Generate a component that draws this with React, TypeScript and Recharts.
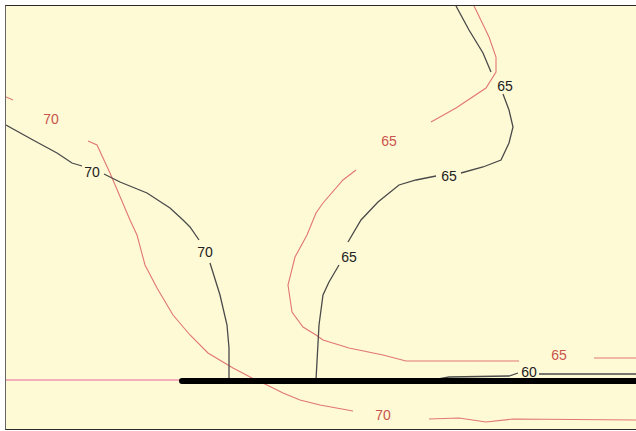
import { ScatterChart, Scatter, XAxis, YAxis } from "recharts";

type Pt = { x: number; y: number };
type Lbl = { x: number; y: number; label: string };

// isolines, black (current run)
const black70a: Pt[] = [
  { x: 0, y: 119 }, { x: 27, y: 134 }, { x: 51, y: 147 }, { x: 66, y: 157 }, { x: 76, y: 160 },
];
const black70b: Pt[] = [
  { x: 98, y: 168 }, { x: 114, y: 176 }, { x: 141, y: 187 }, { x: 164, y: 202 },
  { x: 177, y: 214 }, { x: 184, y: 221 }, { x: 193, y: 234 },
];
const black70c: Pt[] = [
  { x: 204, y: 257 }, { x: 214, y: 289 }, { x: 221, y: 319 }, { x: 223, y: 342 }, { x: 223, y: 374 },
];
const black65a: Pt[] = [
  { x: 310, y: 374 }, { x: 313, y: 319 }, { x: 317, y: 289 }, { x: 323, y: 276 }, { x: 333, y: 259 },
];
const black65b: Pt[] = [
  { x: 342, y: 236 }, { x: 355, y: 214 }, { x: 372, y: 196 }, { x: 393, y: 179 },
  { x: 410, y: 174 }, { x: 430, y: 170 },
];
const black65c: Pt[] = [
  { x: 455, y: 167 }, { x: 477, y: 161 }, { x: 495, y: 154 }, { x: 503, y: 137 },
  { x: 507, y: 121 }, { x: 503, y: 104 }, { x: 497, y: 88 },
];
const black65d: Pt[] = [
  { x: 485, y: 66 }, { x: 477, y: 47 }, { x: 463, y: 24 }, { x: 450, y: 0 },
];
const black60a: Pt[] = [
  { x: 427, y: 374 }, { x: 443, y: 371 }, { x: 503, y: 370 }, { x: 512, y: 367 },
];
const black60b: Pt[] = [{ x: 533, y: 368 }, { x: 630, y: 368 }];

// isolines, red (previous run)
const red70a: Pt[] = [{ x: 0, y: 91 }, { x: 7, y: 94 }];
const red70b: Pt[] = [
  { x: 82, y: 135 }, { x: 91, y: 139 }, { x: 104, y: 167 }, { x: 124, y: 214 }, { x: 131, y: 229 },
  { x: 139, y: 259 }, { x: 151, y: 282 }, { x: 167, y: 309 }, { x: 184, y: 329 }, { x: 202, y: 347 },
  { x: 227, y: 362 }, { x: 246, y: 372 }, { x: 261, y: 379 }, { x: 277, y: 387 }, { x: 294, y: 394 },
  { x: 314, y: 399 }, { x: 347, y: 405 },
];
const red70c: Pt[] = [
  { x: 423, y: 413 }, { x: 453, y: 412 }, { x: 480, y: 416 }, { x: 507, y: 413 }, { x: 630, y: 414 },
];
const red65a: Pt[] = [
  { x: 350, y: 164 }, { x: 337, y: 174 }, { x: 317, y: 197 }, { x: 310, y: 207 }, { x: 301, y: 229 },
  { x: 289, y: 251 }, { x: 282, y: 279 }, { x: 286, y: 306 }, { x: 297, y: 321 }, { x: 310, y: 329 },
  { x: 317, y: 334 }, { x: 343, y: 342 }, { x: 377, y: 349 }, { x: 400, y: 355 }, { x: 513, y: 355 },
];
const red65b: Pt[] = [{ x: 588, y: 352 }, { x: 630, y: 352 }];
const red65c: Pt[] = [
  { x: 425, y: 116 }, { x: 450, y: 102 }, { x: 480, y: 82 }, { x: 490, y: 66 },
  { x: 490, y: 51 }, { x: 483, y: 31 }, { x: 470, y: 4 }, { x: 468, y: 0 },
];

const baseLine: Pt[] = [{ x: 0, y: 374 }, { x: 176, y: 374 }];
const barrier: Pt[] = [{ x: 176, y: 375 }, { x: 630, y: 375 }];

const blackLabels: Lbl[] = [
  { x: 86, y: 166, label: "70" },
  { x: 199, y: 246, label: "70" },
  { x: 343, y: 251, label: "65" },
  { x: 443, y: 170, label: "65" },
  { x: 499, y: 80, label: "65" },
  { x: 523, y: 366, label: "60" },
];
const redLabels: Lbl[] = [
  { x: 45, y: 113, label: "70" },
  { x: 377, y: 409, label: "70" },
  { x: 383, y: 135, label: "65" },
  { x: 553, y: 349, label: "65" },
];

const BLACK = "#4a4a4a";
const RED = "#e07672";
const FONT = "'Liberation Sans', Arial, sans-serif";

const noDot = () => <g />;

const textShape = (color: string) => (p: any) => (
  <text
    x={p.cx}
    y={p.cy}
    textAnchor="middle"
    dominantBaseline="central"
    fontSize={14}
    fontFamily={FONT}
    fill={color}
  >
    {p.payload.label}
  </text>
);

const blackSegs = [black70a, black70b, black70c, black65a, black65b, black65c, black65d, black60a, black60b];
const redSegs = [red70a, red70b, red70c, red65a, red65b, red65c];

export default function App() {
  return (
    <div style={{ position: "absolute", left: 0, top: 0, width: 636, height: 431, background: "#fff" }}>
      <div
        style={{
          position: "absolute",
          left: 5,
          top: 5,
          width: 631,
          height: 423,
          background: "#fffad6",
          borderTop: "1.5px solid #2a2a2a",
          borderLeft: "1.5px solid #666",
          borderBottom: "1.5px solid #2a2a2a",
        }}
      />
      <div style={{ position: "absolute", left: 0, top: 0 }}>
        <ScatterChart width={636} height={431} margin={{ top: 6, right: 0, left: 6, bottom: 2 }}>
          <XAxis type="number" dataKey="x" domain={[0, 630]} hide allowDataOverflow />
          <YAxis type="number" dataKey="y" domain={[0, 423]} reversed hide allowDataOverflow />
          <Scatter
            data={baseLine}
            fill="#e8649c"
            line={{ stroke: "#e8649c", strokeWidth: 1 }}
            shape={noDot}
            isAnimationActive={false}
          />
          {redSegs.map((d, i) => (
            <Scatter
              key={"r" + i}
              data={d}
              fill={RED}
              line={{ stroke: RED, strokeWidth: 1.1 }}
              shape={noDot}
              isAnimationActive={false}
            />
          ))}
          {blackSegs.map((d, i) => (
            <Scatter
              key={"b" + i}
              data={d}
              fill={BLACK}
              line={{ stroke: BLACK, strokeWidth: 1.3 }}
              shape={noDot}
              isAnimationActive={false}
            />
          ))}
          <Scatter
            data={barrier}
            fill="#000"
            line={{ stroke: "#000", strokeWidth: 6, strokeLinecap: "round" }}
            shape={noDot}
            isAnimationActive={false}
          />
          <Scatter data={blackLabels} fill="#222" shape={textShape("#222")} isAnimationActive={false} />
          <Scatter data={redLabels} fill="#c9544c" shape={textShape("#c9544c")} isAnimationActive={false} />
        </ScatterChart>
      </div>
    </div>
  );
}
